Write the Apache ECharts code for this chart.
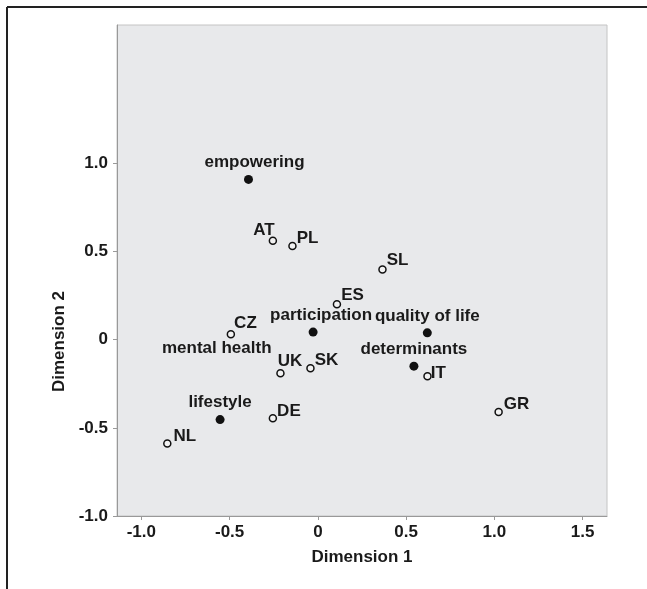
<!DOCTYPE html>
<html>
<head>
<meta charset="utf-8">
<script src="https://cdn.jsdelivr.net/npm/echarts@6/dist/echarts.min.js"></script>
<style>
  html, body { margin: 0; padding: 0; background: #fff; }
  #chart { width: 647px; height: 589px; }
</style>
</head>
<body>
<div id="chart"></div>
<script>
// countries (open circles)
const countries = ['AT', 'PL', 'SL', 'ES', 'IT', 'GR', 'CZ', 'UK', 'SK', 'DE', 'NL'];
const countryX = [-0.255, -0.144, 0.366, 0.108, 0.621, 1.024, -0.493, -0.212, -0.042, -0.255, -0.853];
const countryY = [0.561, 0.531, 0.398, 0.201, -0.207, -0.410, 0.031, -0.190, -0.162, -0.446, -0.589];

// themes (filled dots); "mental health" has no visible dot in the source
const themes = ['empowering', 'participation', 'quality of life', 'determinants', 'mental health', 'lifestyle'];
const themeX = [-0.393, -0.027, 0.620, 0.544, -0.573, -0.554];
const themeY = [0.909, 0.043, 0.039, -0.150, -0.12, -0.453];

const xTicks = [-1.0, -0.5, 0, 0.5, 1.0, 1.5];
const yTicks = [-1.0, -0.5, 0, 0.5, 1.0];

(function(){
  const el = document.getElementById('chart');
  const chart = echarts.init(el);
  const ink = '#1a1a1a';
  const font = 'Liberation Sans, Arial, sans-serif';
  const fmt = v => v === 0 ? '0' : v.toFixed(1);

  // label placement tweaks (style only)
  const countryLabel = {
    AT: { position: 'left', offset: [6, -10] },
    UK: { offset: [-7, -12] },
    IT: { offset: [-1, -3] },
    CZ: { offset: [-1, -11] },
    NL: { offset: [2, -7] },
    DE: { offset: [0, -7] },
    GR: { offset: [1, -8] },
    SL: { offset: [0, -9] },
    ES: { offset: [0, -9] }
  };
  const themeLabel = {
    empowering: { offset: [6, 0] },
    participation: { offset: [8, 0] }
  };

  const countryData = countries.map((n, i) => ({
    name: n, value: [countryX[i], countryY[i]],
    label: countryLabel[n] || {}
  }));
  const themeData = themes.map((n, i) => {
    const d = { name: n, value: [themeX[i], themeY[i]], label: themeLabel[n] || {} };
    if (n === 'mental health') d.symbolSize = 0;
    return d;
  });

  chart.setOption({
    backgroundColor: '#fff',
    animation: false,
    textStyle: { fontFamily: font },
    graphic: [
      { type: 'line', shape: { x1: 7, y1: 7, x2: 647, y2: 7 }, style: { stroke: '#222', lineWidth: 2 } },
      { type: 'line', shape: { x1: 7, y1: 7, x2: 7, y2: 589 }, style: { stroke: '#222', lineWidth: 2 } }
    ],
    grid: {
      left: 117, right: 40, top: 25, bottom: 73,
      show: true, backgroundColor: '#e8e9eb', borderColor: '#c4c4c4', borderWidth: 1
    },
    xAxis: {
      type: 'value', min: -1.138, max: 1.638,
      name: 'Dimension 1', nameLocation: 'middle', nameGap: 33,
      nameTextStyle: { color: ink, fontSize: 17, fontWeight: 'bold', fontFamily: font },
      axisLine: { show: true, onZero: false, lineStyle: { color: '#999', width: 1 } },
      axisTick: { show: true, length: 4, lineStyle: { color: '#999' }, customValues: xTicks },
      axisLabel: { color: ink, fontSize: 17, fontWeight: 'bold', margin: 8, customValues: xTicks, formatter: fmt },
      splitLine: { show: false }
    },
    yAxis: {
      type: 'value', min: -1.0, max: 1.785,
      name: 'Dimension 2', nameLocation: 'middle', nameGap: 45,
      nameTextStyle: { color: ink, fontSize: 17, fontWeight: 'bold', fontFamily: font, padding: [0, 142, 0, 0] },
      axisLine: { show: true, onZero: false, lineStyle: { color: '#999', width: 1 } },
      axisTick: { show: true, length: 4, lineStyle: { color: '#999' }, customValues: yTicks },
      axisLabel: { color: ink, fontSize: 17, fontWeight: 'bold', margin: 9, customValues: yTicks, formatter: fmt },
      splitLine: { show: false }
    },
    series: [
      {
        name: 'themes', type: 'scatter', data: themeData,
        symbol: 'circle', symbolSize: 9,
        itemStyle: { color: '#111', opacity: 1 },
        label: {
          show: true, position: 'top', distance: 4, formatter: '{b}',
          color: ink, fontSize: 17, fontWeight: 'bold', fontFamily: font
        }
      },
      {
        name: 'countries', type: 'scatter', data: countryData,
        symbol: 'circle', symbolSize: 7,
        itemStyle: { color: '#f2f2f2', borderColor: '#111', borderWidth: 1.5, opacity: 1 },
        label: {
          show: true, position: 'right', distance: 0, offset: [0, -8], formatter: '{b}',
          color: ink, fontSize: 17, fontWeight: 'bold', fontFamily: font
        }
      }
    ]
  });
})();
</script>
</body>
</html>
